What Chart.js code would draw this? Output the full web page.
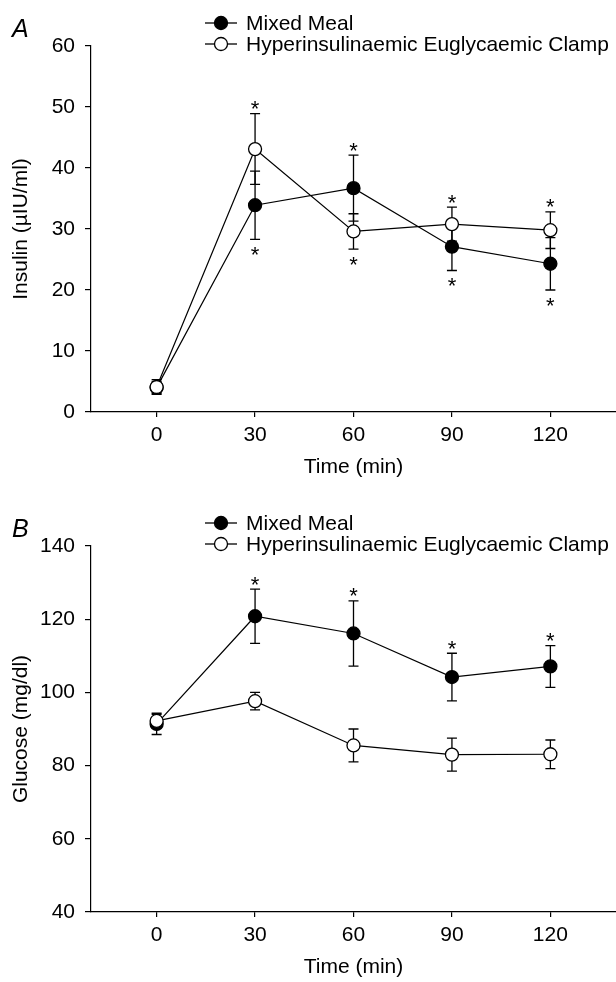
<!DOCTYPE html>
<html>
<head>
<meta charset="utf-8">
<title>Insulin and glucose</title>
<script src="https://cdn.jsdelivr.net/npm/chart.js@4.4.1/dist/chart.umd.min.js"></script>
<style>
    html, body { margin: 0; padding: 0; background: #fff; }
    #wrap { position: relative; width: 616px; height: 982px; }
    canvas { position: absolute; left: 0; }
    #insulinChart { top: 0; }
    #glucoseChart { top: 500px; }
</style>
</head>
<body>
<div id="wrap">
    <canvas id="insulinChart" width="616" height="500"></canvas>
    <canvas id="glucoseChart" width="616" height="482"></canvas>
</div>
<script>
// Data
const timePoints = [0, 30, 60, 90, 120];
const xTicks = [0, 30, 60, 90, 120];
const seriesLabels = ['Mixed Meal', 'Hyperinsulinaemic Euglycaemic Clamp'];

// Panel A - insulin (µIU/ml), mean and SEM
const mealInsulin = [4.0, 33.9, 36.7, 27.1, 24.3];
const mealInsulinErr = [1.0, 5.6, 5.4, 3.9, 4.3];
const clampInsulin = [4.1, 43.1, 29.6, 30.8, 29.8];
const clampInsulinErr = [1.2, 5.8, 2.9, 2.8, 3.0];
const insulinSigAbove = [false, true, true, true, true];
const insulinSigBelow = [false, true, true, true, true];

// Panel B - glucose (mg/dl), mean and SEM
const mealGlucose = [91.4, 120.8, 116.1, 104.2, 107.1];
const mealGlucoseErr = [2.9, 7.4, 8.9, 6.5, 5.7];
const clampGlucose = [92.2, 97.6, 85.5, 83.0, 83.1];
const clampGlucoseErr = [1.8, 2.4, 4.5, 4.5, 3.9];
const glucoseSigAbove = [false, true, true, true, true];
const glucoseSigBelow = [false, false, false, false, false];

const FONT = "'Liberation Sans', Arial, Helvetica, sans-serif";
Chart.defaults.font.family = FONT;
Chart.defaults.font.size = 21;
Chart.defaults.color = '#000';

function toPoints(values) {
    return values.map((v, i) => ({ x: timePoints[i], y: v }));
}

// Error bars, asterisks, line+marker legend and panel letter
const panelExtras = {
    id: 'panelExtras',
    beforeDatasetsDraw(chart) {
        const { ctx } = chart;
        const xs = chart.scales.x, ys = chart.scales.y;
        ctx.save();
        ctx.strokeStyle = '#000';
        ctx.lineWidth = 1.3;
        chart.data.datasets.forEach(ds => {
            ds.data.forEach((pt, j) => {
                const px = xs.getPixelForValue(pt.x);
                const top = ys.getPixelForValue(pt.y + ds.errors[j]);
                const bot = ys.getPixelForValue(pt.y - ds.errors[j]);
                ctx.beginPath();
                ctx.moveTo(px, top); ctx.lineTo(px, bot);
                ctx.moveTo(px - 5, top); ctx.lineTo(px + 5, top);
                ctx.moveTo(px - 5, bot); ctx.lineTo(px + 5, bot);
                ctx.stroke();
            });
        });
        ctx.restore();
    },
    afterDraw(chart, args, opts) {
        const { ctx } = chart;
        const xs = chart.scales.x, ys = chart.scales.y;
        const sets = chart.data.datasets;
        ctx.save();

        // significance asterisks
        ctx.fillStyle = '#000';
        ctx.font = '22px ' + FONT;
        ctx.textAlign = 'center';
        ctx.textBaseline = 'alphabetic';
        timePoints.forEach((t, j) => {
            const px = xs.getPixelForValue(t);
            if (opts.sigAbove[j]) {
                const hi = Math.max(...sets.map(ds => ds.data[j].y + ds.errors[j]));
                ctx.fillText('*', px, ys.getPixelForValue(hi) - 10 + 12.5);
            }
            if (opts.sigBelow[j]) {
                const lo = Math.min(...sets.map(ds => ds.data[j].y - ds.errors[j]));
                ctx.fillText('*', px, ys.getPixelForValue(lo) + 10.5 + 12.5);
            }
        });

        // legend
        const rows = [23, 44];
        ctx.font = '21px ' + FONT;
        ctx.lineWidth = 1.3;
        ctx.strokeStyle = '#000';
        ctx.textAlign = 'left';
        ctx.textBaseline = 'middle';
        sets.forEach((ds, i) => {
            const y = rows[i];
            ctx.beginPath();
            ctx.moveTo(205, y); ctx.lineTo(237, y);
            ctx.stroke();
            ctx.beginPath();
            ctx.arc(221, y, 6.5, 0, Math.PI * 2);
            ctx.fillStyle = ds.pointBackgroundColor;
            ctx.fill();
            ctx.stroke();
            ctx.fillStyle = '#000';
            ctx.fillText(ds.label, 246, y + 1);
        });

        // panel letter
        ctx.font = 'italic 25px ' + FONT;
        ctx.textBaseline = 'alphabetic';
        ctx.fillText(opts.letter, 12, 37);
        ctx.restore();
    }
};

function makeDataset(label, values, errors, fill, order) {
    return {
        label: label,
        data: toPoints(values),
        errors: errors,
        borderColor: '#000',
        borderWidth: 1.2,
        pointRadius: 6.5,
        pointHoverRadius: 6.5,
        pointBorderWidth: 1.3,
        pointBackgroundColor: fill,
        pointBorderColor: '#000',
        tension: 0,
        order: order
    };
}

function buildChart(canvasId, cfg) {
    const ctx = document.getElementById(canvasId).getContext('2d');
    return new Chart(ctx, {
        type: 'line',
        data: {
            datasets: [
                makeDataset(seriesLabels[0], cfg.meal, cfg.mealErr, '#000', 1),
                makeDataset(seriesLabels[1], cfg.clamp, cfg.clampErr, '#fff', 0)
            ]
        },
        options: {
            responsive: false,
            animation: false,
            layout: {
                autoPadding: false,
                padding: { top: 46, right: 0, bottom: cfg.padBottom, left: 0 }
            },
            plugins: {
                legend: { display: false },
                tooltip: { enabled: false },
                panelExtras: { letter: cfg.letter, sigAbove: cfg.sigAbove, sigBelow: cfg.sigBelow }
            },
            scales: {
                x: {
                    type: 'linear',
                    min: -20,
                    max: 140,
                    afterBuildTicks: s => { s.ticks = xTicks.map(v => ({ value: v })); },
                    afterFit: s => {
                        s.height = 70;
                        s.paddingLeft = 0;
                        s.paddingRight = 0;
                    },
                    ticks: { padding: 6, maxRotation: 0 },
                    grid: { drawOnChartArea: false, drawTicks: true, tickLength: 5, color: '#000', lineWidth: 1.2 },
                    border: { display: true, color: '#000', width: 1.2 },
                    title: { display: true, text: 'Time (min)', padding: { top: 0, bottom: 2 } }
                },
                y: {
                    min: cfg.yMin,
                    max: cfg.yMax,
                    afterFit: s => { s.width = 91; },
                    ticks: { stepSize: cfg.yStep, padding: 10 },
                    grid: { drawOnChartArea: false, drawTicks: true, tickLength: 6, color: '#000', lineWidth: 1.2 },
                    border: { display: true, color: '#000', width: 1.2 },
                    title: { display: true, text: cfg.yTitle, padding: { top: 9, bottom: 0 } }
                }
            }
        },
        plugins: [panelExtras]
    });
}

buildChart('insulinChart', {
    letter: 'A',
    meal: mealInsulin, mealErr: mealInsulinErr,
    clamp: clampInsulin, clampErr: clampInsulinErr,
    sigAbove: insulinSigAbove, sigBelow: insulinSigBelow,
    yMin: 0, yMax: 60, yStep: 10,
    yTitle: 'Insulin (\u00b5IU/ml)',
    padBottom: 18
});

buildChart('glucoseChart', {
    letter: 'B',
    meal: mealGlucose, mealErr: mealGlucoseErr,
    clamp: clampGlucose, clampErr: clampGlucoseErr,
    sigAbove: glucoseSigAbove, sigBelow: glucoseSigBelow,
    yMin: 40, yMax: 140, yStep: 20,
    yTitle: 'Glucose (mg/dl)',
    padBottom: 0
});
</script>
</body>
</html>
